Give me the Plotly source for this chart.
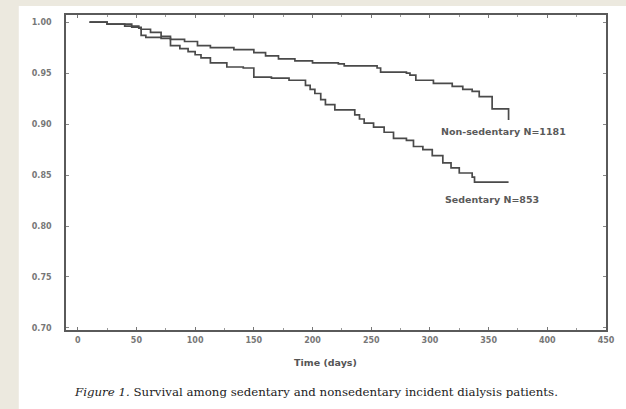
import plotly.graph_objects as go

# Kaplan-Meier step data (day of drop, survival after drop)
ns_days = [10, 25, 46, 54, 62, 71, 79, 91, 102, 113, 133, 150, 160, 171, 185, 200, 222, 227,
           255, 258, 280, 283, 288, 303, 319, 328, 336, 342, 353, 367]
ns_surv = [1.0, 0.998, 0.995, 0.993, 0.990, 0.986, 0.983, 0.981, 0.977, 0.975, 0.973, 0.970,
           0.967, 0.964, 0.962, 0.960, 0.959, 0.957, 0.955, 0.951, 0.950, 0.948, 0.943, 0.940,
           0.937, 0.934, 0.932, 0.927, 0.915, 0.904]

sed_days = [10, 25, 40, 52, 54, 58, 71, 79, 87, 94, 100, 105, 113, 127, 141, 150, 165, 180,
            194, 198, 202, 207, 211, 219, 236, 240, 244, 252, 261, 269, 280, 286, 294, 302,
            311, 318, 325, 336, 338, 367]
sed_surv = [1.0, 0.998, 0.996, 0.994, 0.987, 0.985, 0.984, 0.977, 0.974, 0.971, 0.968, 0.965,
            0.960, 0.956, 0.955, 0.946, 0.945, 0.943, 0.938, 0.934, 0.930, 0.924, 0.919, 0.914,
            0.909, 0.905, 0.901, 0.897, 0.892, 0.886, 0.884, 0.878, 0.875, 0.869, 0.862, 0.857,
            0.852, 0.848, 0.843, 0.843]

x_ticks = [0, 50, 100, 150, 200, 250, 300, 350, 400, 450]
y_ticks = [0.70, 0.75, 0.80, 0.85, 0.90, 0.95, 1.00]
y_tick_text = ["0.70", "0.75", "0.80", "0.85", "0.90", "0.95", "1.00"]

ns_label = "Non-sedentary N=1181"
sed_label = "Sedentary N=853"
x_title = "Time (days)"
caption = "<i>Figure 1.</i> Survival among sedentary and nonsedentary incident dialysis patients."

line_col = "#4a4a4a"

fig = go.Figure()
fig.add_trace(go.Scatter(x=ns_days, y=ns_surv, mode="lines", line=dict(shape="hv", color=line_col, width=1.7),
                         showlegend=False, hoverinfo="skip"))
fig.add_trace(go.Scatter(x=sed_days, y=sed_surv, mode="lines", line=dict(shape="hv", color=line_col, width=1.7),
                         showlegend=False, hoverinfo="skip"))

L, R, T, B = 66, 11, 15, 79
W, H = 626, 409
pw, ph = W - L - R, H - T - B

def px(xp):
    return (xp - L) / pw

def py(yp):
    return (H - B - yp) / ph

fig.add_shape(type="rect", xref="paper", yref="paper", x0=px(18), x1=px(640), y0=py(6), y1=py(420),
              fillcolor="white", line=dict(width=0), layer="below")

lab_font = dict(family="DejaVu Sans", size=9.5, color="#5a5a5a", weight="bold")
fig.add_annotation(x=308, y=0.893, xref="x", yref="y", text=ns_label, showarrow=False, xanchor="left",
                   yanchor="middle", font=lab_font)
fig.add_annotation(x=311, y=0.8265, xref="x", yref="y", text=sed_label, showarrow=False, xanchor="left",
                   yanchor="middle", font=lab_font)
fig.add_annotation(x=px(330), y=py(362), xref="paper", yref="paper", text=x_title,
                   showarrow=False, xanchor="center", yanchor="middle",
                   font=dict(family="DejaVu Sans", size=9.5, color="#555555", weight="bold"))
fig.add_annotation(x=px(320), y=py(392), xref="paper", yref="paper", text=caption,
                   showarrow=False, xanchor="center", yanchor="middle",
                   font=dict(family="DejaVu Serif", size=11.8, color="#222222"))

tick_font = dict(family="DejaVu Sans", size=8, color="#777777", weight="bold")
fig.update_layout(
    width=W, height=H,
    margin=dict(l=L, r=R, t=T, b=B, pad=0),
    paper_bgcolor="#ece9df",
    plot_bgcolor="white",
    xaxis=dict(range=[-10, 450], tickvals=x_ticks, showgrid=False, zeroline=False,
               showline=True, linecolor="#5a5a5a", linewidth=1.7, mirror="ticks",
               ticks="inside", ticklen=3, tickcolor="#777777", ticklabelstandoff=2,
               tickfont=tick_font,
               minor=dict(dtick=25, ticks="inside", ticklen=2, tickcolor="#999999")),
    yaxis=dict(range=[0.698, 1.007], tickvals=y_ticks, ticktext=y_tick_text, showgrid=False,
               zeroline=False, showline=True, linecolor="#5a5a5a", linewidth=1.7, mirror="ticks",
               ticks="inside", ticklen=3, tickcolor="#888888", ticklabelstandoff=11,
               tickfont=tick_font),
)

fig.write_html("out.html")
